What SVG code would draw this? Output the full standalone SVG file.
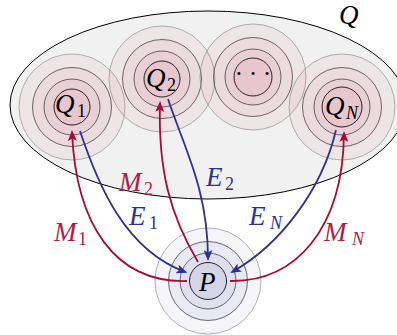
<svg xmlns="http://www.w3.org/2000/svg" width="397" height="335" viewBox="0 0 397 335">
<style>
.lbl{font-family:"Liberation Serif","Times New Roman",serif;font-style:italic;font-size:27px}
.sub{font-style:normal;font-size:18px}
.subi{font-style:italic;font-size:18px}
.qr{fill:rgb(200,40,80);fill-opacity:0.055}
.pr{fill:rgb(60,60,150);fill-opacity:0.06}
.o{stroke:#888;stroke-opacity:0.65;stroke-width:1}
.m{stroke:#333;stroke-opacity:0.8;stroke-width:0.9}
.i{stroke:#111;stroke-width:0.9}
.red{fill:none;stroke:#a50d35;stroke-width:1.8}
.blue{fill:none;stroke:#2e3192;stroke-width:1.8}
.tr{fill:#b01c44}
.tb{fill:#2e3192}
</style>
<defs>
<marker id="ar" viewBox="0 0 11 9" markerWidth="11" markerHeight="9" refX="9" refY="4.5" orient="auto" markerUnits="userSpaceOnUse">
<path d="M0,0 L11,4.5 L0,9 L2.5,4.5 z" fill="#a50d35"/>
</marker>
<marker id="ab" viewBox="0 0 11 9" markerWidth="11" markerHeight="9" refX="9" refY="4.5" orient="auto" markerUnits="userSpaceOnUse">
<path d="M0,0 L11,4.5 L0,9 L2.5,4.5 z" fill="#2e3192"/>
</marker>
</defs>
<g id="Q">
<ellipse cx="208" cy="105" rx="198" ry="94" fill="#f1f1f1" stroke="#000" stroke-width="1"/>
<text class="lbl" x="339" y="24" fill="#000">Q</text>
</g>
<g id="Q1">
<circle class="qr o" cx="72" cy="107" r="53"/>
<circle class="qr m" cx="72" cy="107" r="39.5"/>
<circle class="qr m" cx="72" cy="107" r="28"/>
<circle class="qr i" cx="72" cy="107" r="18"/>
<text class="lbl" x="55" y="113">Q<tspan class="sub" x="77" y="117">1</tspan></text>
</g>
<g id="Q2">
<circle class="qr o" cx="162" cy="79" r="53"/>
<circle class="qr m" cx="162" cy="79" r="39.5"/>
<circle class="qr m" cx="162" cy="79" r="28"/>
<circle class="qr i" cx="162" cy="79" r="18"/>
<text class="lbl" x="146" y="87">Q<tspan class="sub" x="167" y="91">2</tspan></text>
</g>
<g id="Qdots">
<circle class="qr o" cx="253" cy="77" r="53"/>
<circle class="qr m" cx="253" cy="77" r="39.5"/>
<circle class="qr m" cx="253" cy="77" r="28"/>
<circle class="qr i" cx="253" cy="77" r="19"/>
<text class="lbl" x="234.5" y="82" style="font-style:normal;font-size:26px;letter-spacing:5.5px">···</text>
</g>
<g id="QN">
<circle class="qr o" cx="342" cy="107" r="53"/>
<circle class="qr m" cx="342" cy="107" r="39.5"/>
<circle class="qr m" cx="342" cy="107" r="28"/>
<circle class="qr i" cx="342" cy="107" r="20"/>
<text class="lbl" x="325" y="115">Q<tspan class="subi" x="346" y="119">N</tspan></text>
</g>
<g id="P">
<circle class="pr o" cx="208" cy="281" r="53"/>
<circle class="pr m" cx="208" cy="281" r="39.5"/>
<circle class="pr m" cx="208" cy="281" r="28"/>
<circle class="pr i" cx="208" cy="281" r="18.5"/>
<text class="lbl" x="199" y="291">P</text>
</g>
<g id="connectors">
<path class="red" d="M187,281 C115,283 76,225 72,132" marker-end="url(#ar)"/>
<path class="blue" d="M80,131 C98,185 125,250 185.5,272" marker-end="url(#ab)"/>
<path class="red" d="M198,262 C170,215 158,170 160,103" marker-end="url(#ar)"/>
<path class="blue" d="M168,99 C185,150 208,190 208,259" marker-end="url(#ab)"/>
<path class="blue" d="M336,130 C322,190 280,245 232,272" marker-end="url(#ab)"/>
<path class="red" d="M230,281 C295,282 343,230 344,133" marker-end="url(#ar)"/>
</g>
<g id="labels">
<text class="lbl tr" x="54" y="241">M<tspan class="sub" x="78" y="245">1</tspan></text>
<text class="lbl tr" x="119" y="191">M<tspan class="sub" x="144" y="195">2</tspan></text>
<text class="lbl tb" x="129" y="225">E<tspan class="sub" x="149" y="229">1</tspan></text>
<text class="lbl tb" x="206" y="186">E<tspan class="sub" x="225" y="190">2</tspan></text>
<text class="lbl tb" x="249" y="225">E<tspan class="subi" x="270" y="229">N</tspan></text>
<text class="lbl tr" x="324" y="241">M<tspan class="subi" x="352" y="245">N</tspan></text>
</g>
</svg>
